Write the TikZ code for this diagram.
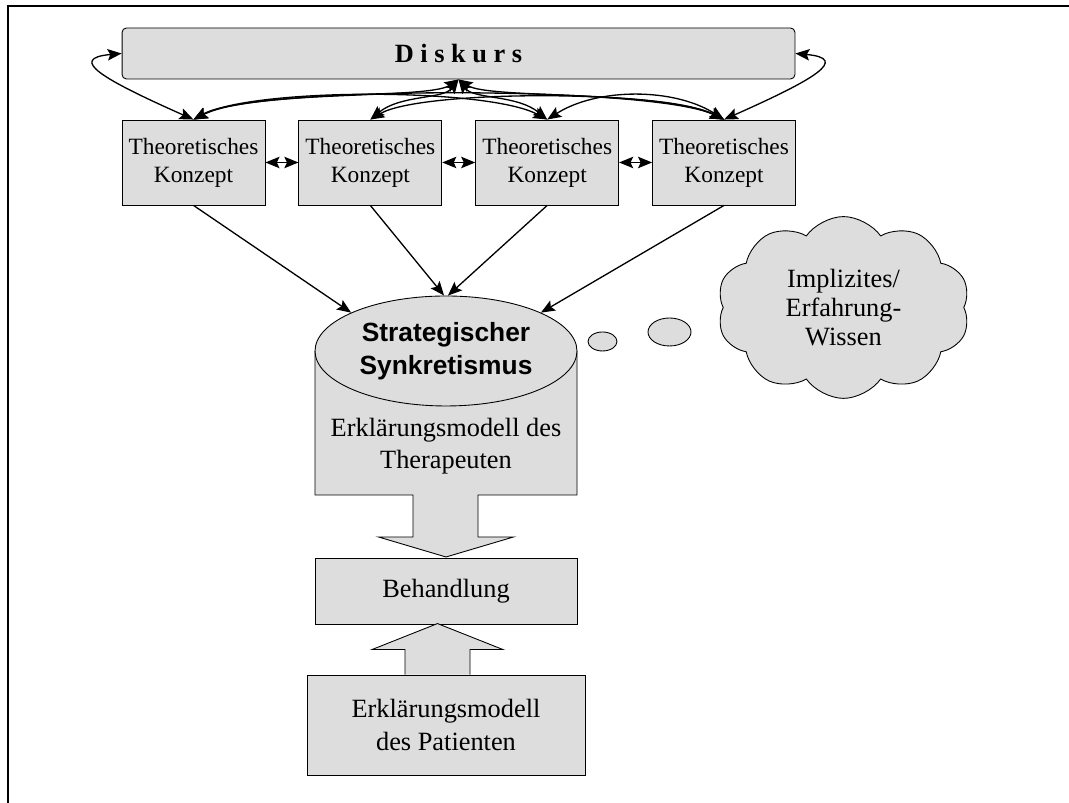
\documentclass[tikz,border=0pt]{standalone}
\usepackage{fontspec}
\setmainfont{Liberation Serif}
\newfontfamily\arialfont{Liberation Sans}
\usepackage{tikz}
\usetikzlibrary{shapes}
\usetikzlibrary{positioning}
\usetikzlibrary{arrows.meta}
\usepackage{xcolor}
\definecolor{hellgrau}{RGB}{221,221,221}

\begin{document}
\begin{tikzpicture}[x=0.02cm,y=0.02cm,line width=.5pt,>={Stealth[length=8pt,width=6.5pt,inset=1.5pt]},
  kasten/.style={draw,fill=hellgrau,align=center,inner sep=1pt},
  konzept/.style={kasten,minimum width=2.86cm,minimum height=1.7cm,font=\fontsize{13.3}{16}\selectfont},
  gross/.style={font=\fontsize{15}{18.3}\selectfont},
  pfeil/.style={line width=.75pt}]
\useasboundingbox (0,0) rectangle (1069,803);
\draw[line width=1.2pt] (8,0)--(8,797)--(1069,797);
\node[kasten,rounded corners=2.5pt,minimum width=13.46cm,minimum height=1.02cm,gross] (diskurs) at (458.5,749.5) {\textbf{D i s k u r s}};
\node[konzept] (k1) at (193.5,640.5) {Theoretisches\\Konzept};
\node[konzept,right=0.66cm of k1] (k2) {Theoretisches\\Konzept};
\node[konzept,right=0.66cm of k2] (k3) {Theoretisches\\Konzept};
\node[konzept,right=0.66cm of k3] (k4) {Theoretisches\\Konzept};
\draw[pfeil,<->] (k1.east)--(k2.west);
\draw[pfeil,<->] (k2.east)--(k3.west);
\draw[pfeil,<->] (k3.east)--(k4.west);
\draw[pfeil,<->] (diskurs.west) .. controls +(-55,-5) and +(-90,40) .. (k1.north);
\draw[pfeil,<->] (diskurs.east) .. controls +(55,-5) and +(90,40) .. (k4.north);
\draw[pfeil,<->] (diskurs.south) .. controls +(-30,-20) and +(60,30) .. (k1.north);
\draw[pfeil,<->] (diskurs.south) .. controls +(-15,-20) and +(30,25) .. (k2.north);
\draw[pfeil,<->] (diskurs.south) .. controls +(15,-20) and +(-30,25) .. (k3.north);
\draw[pfeil,<->] (diskurs.south) .. controls +(30,-20) and +(-60,30) .. (k4.north);
\draw[pfeil,<->] (k1.north) .. controls +(60,32) and +(-60,32) .. (k3.north);
\draw[pfeil,<->] (k1.north) .. controls +(60,34) and +(-70,34) .. (k4.north);
\draw[pfeil,<->] (k2.north) .. controls +(50,30) and +(-60,30) .. (k4.north);
\draw[pfeil,<->] (k3.north) .. controls +(50,32) and +(-50,32) .. (k4.north);
\coordinate (zyl) at (315,452);
\filldraw[fill=hellgrau] (zyl) -- ++(0,-144) -- ++(98,0) -- ++(0,-42) -- ++(-34.5,0) -- ++(67.5,-20)
  -- ++(67.5,20) -- ++(-35.5,0) -- ++(0,42) -- ++(99,0) -- ++(0,144);
\node[draw,fill=hellgrau,ellipse,minimum width=5.24cm,minimum height=2.2cm,inner sep=0pt,align=center,
  font=\arialfont\bfseries\fontsize{15}{18.5}\selectfont] (syn) at (446,452) {Strategischer\\Synkretismus};
\node[gross,align=center] (erkl) at (446,357) {Erklärungsmodell des\\Therapeuten};
\draw[pfeil,->] (k1.south)--(syn.158);
\draw[pfeil,->] (k2.south)--(syn.92);
\draw[pfeil,->] (k3.south)--(syn.88);
\draw[pfeil,->] (k4.south)--(syn.22);
\node[kasten,minimum width=5.24cm,minimum height=1.32cm,gross] (beh) at (446,212) {Behandlung};
\node[kasten,minimum width=5.56cm,minimum height=2cm,gross] (pat) at (446,78) {Erklärungsmodell\\des Patienten};
\filldraw[fill=hellgrau] (pat.north) ++(-41,0) -- ++(0,25) -- ++(-33,0) -- ++(65.5,26) -- ++(65.5,-26)
  -- ++(-33,0) -- ++(0,-25);
\node[draw,fill=hellgrau,ellipse,minimum width=0.58cm,minimum height=0.38cm] (blase1) at (602.5,461.5) {};
\node[draw,fill=hellgrau,ellipse,minimum width=0.86cm,minimum height=0.56cm] (blase2) at (669.5,471) {};
\node[cloud,draw,fill=hellgrau,cloud puffs=10,cloud puff arc=110,minimum width=5.06cm,
  minimum height=3.4cm,inner sep=0pt,align=center,font=\fontsize{15}{16.5}\selectfont] (wolke) at (843.5,495.5)
  {Implizites/\\Erfahrung-\\Wissen};
\end{tikzpicture}
\end{document}
